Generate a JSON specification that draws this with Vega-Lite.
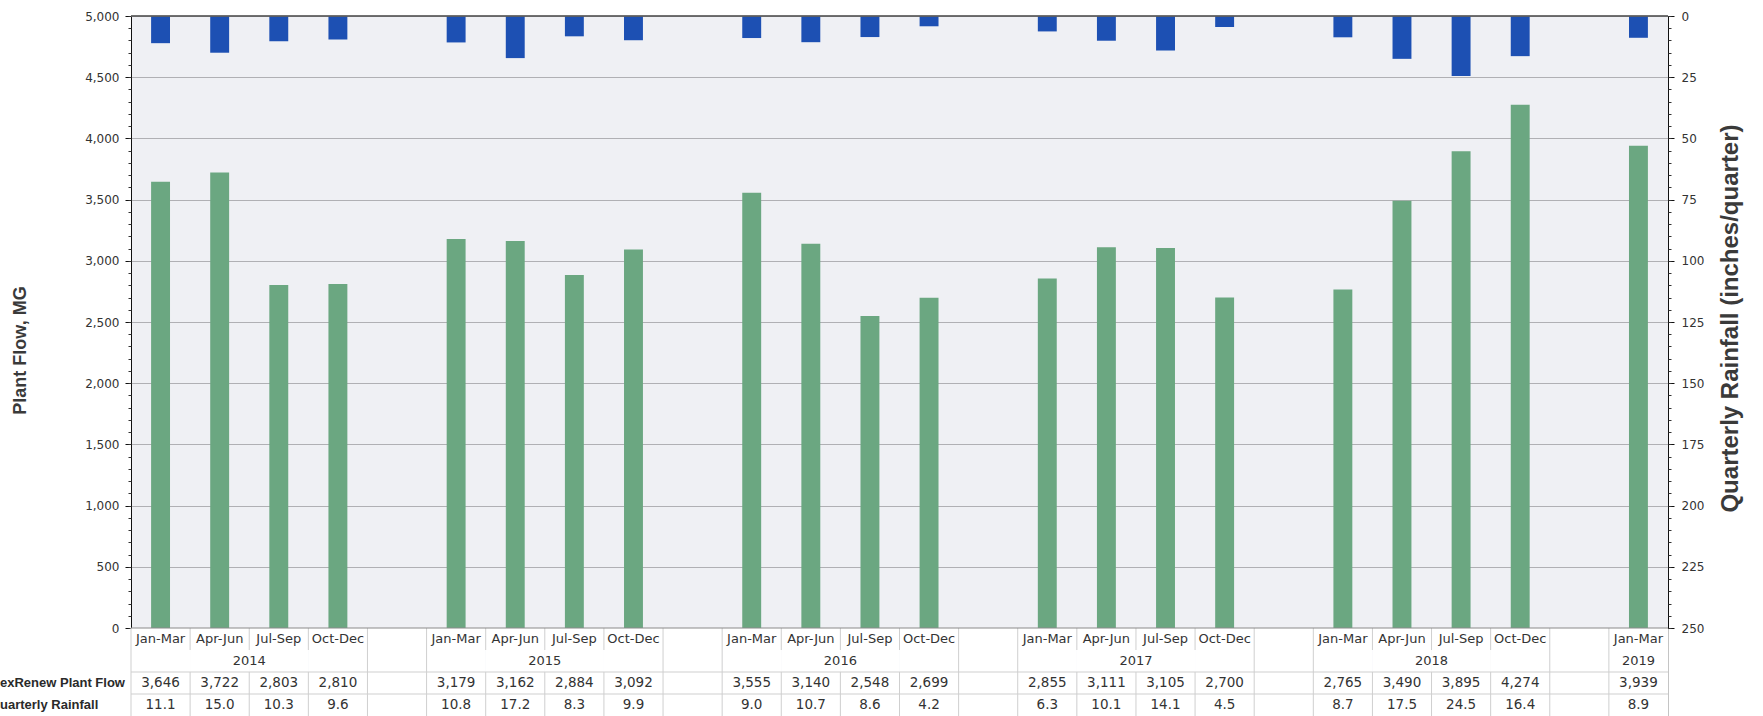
{
  "$schema": "https://vega.github.io/schema/vega-lite/v6.json",
  "autosize": {"type": "none"},
  "padding": {"left": 131, "top": 16, "right": 95, "bottom": 0},
  "width": 1537,
  "height": 700,
  "background": "white",
  "config": {"view": {"fill": "#eff0f4", "stroke": "#c4c4c4"}},
  "datasets": {
    "q": [
      {"slot": "2014 Jan-Mar", "quarter": "Jan-Mar", "year": "2014", "flow": 3646, "rain": 11.1},
      {"slot": "2014 Apr-Jun", "quarter": "Apr-Jun", "year": "2014", "flow": 3722, "rain": 15.0},
      {"slot": "2014 Jul-Sep", "quarter": "Jul-Sep", "year": "2014", "flow": 2803, "rain": 10.3},
      {"slot": "2014 Oct-Dec", "quarter": "Oct-Dec", "year": "2014", "flow": 2810, "rain": 9.6},
      {"slot": "2015 Jan-Mar", "quarter": "Jan-Mar", "year": "2015", "flow": 3179, "rain": 10.8},
      {"slot": "2015 Apr-Jun", "quarter": "Apr-Jun", "year": "2015", "flow": 3162, "rain": 17.2},
      {"slot": "2015 Jul-Sep", "quarter": "Jul-Sep", "year": "2015", "flow": 2884, "rain": 8.3},
      {"slot": "2015 Oct-Dec", "quarter": "Oct-Dec", "year": "2015", "flow": 3092, "rain": 9.9},
      {"slot": "2016 Jan-Mar", "quarter": "Jan-Mar", "year": "2016", "flow": 3555, "rain": 9.0},
      {"slot": "2016 Apr-Jun", "quarter": "Apr-Jun", "year": "2016", "flow": 3140, "rain": 10.7},
      {"slot": "2016 Jul-Sep", "quarter": "Jul-Sep", "year": "2016", "flow": 2548, "rain": 8.6},
      {"slot": "2016 Oct-Dec", "quarter": "Oct-Dec", "year": "2016", "flow": 2699, "rain": 4.2},
      {"slot": "2017 Jan-Mar", "quarter": "Jan-Mar", "year": "2017", "flow": 2855, "rain": 6.3},
      {"slot": "2017 Apr-Jun", "quarter": "Apr-Jun", "year": "2017", "flow": 3111, "rain": 10.1},
      {"slot": "2017 Jul-Sep", "quarter": "Jul-Sep", "year": "2017", "flow": 3105, "rain": 14.1},
      {"slot": "2017 Oct-Dec", "quarter": "Oct-Dec", "year": "2017", "flow": 2700, "rain": 4.5},
      {"slot": "2018 Jan-Mar", "quarter": "Jan-Mar", "year": "2018", "flow": 2765, "rain": 8.7},
      {"slot": "2018 Apr-Jun", "quarter": "Apr-Jun", "year": "2018", "flow": 3490, "rain": 17.5},
      {"slot": "2018 Jul-Sep", "quarter": "Jul-Sep", "year": "2018", "flow": 3895, "rain": 24.5},
      {"slot": "2018 Oct-Dec", "quarter": "Oct-Dec", "year": "2018", "flow": 4274, "rain": 16.4},
      {"slot": "2019 Jan-Mar", "quarter": "Jan-Mar", "year": "2019", "flow": 3939, "rain": 8.9}
    ],
    "slots": [
      {"slot": "2014 Jan-Mar", "start": true}, {"slot": "2014 Apr-Jun", "start": false}, {"slot": "2014 Jul-Sep", "start": false}, {"slot": "2014 Oct-Dec", "start": false}, {"slot": "gap 2014", "start": true},
      {"slot": "2015 Jan-Mar", "start": true}, {"slot": "2015 Apr-Jun", "start": false}, {"slot": "2015 Jul-Sep", "start": false}, {"slot": "2015 Oct-Dec", "start": false}, {"slot": "gap 2015", "start": true},
      {"slot": "2016 Jan-Mar", "start": true}, {"slot": "2016 Apr-Jun", "start": false}, {"slot": "2016 Jul-Sep", "start": false}, {"slot": "2016 Oct-Dec", "start": false}, {"slot": "gap 2016", "start": true},
      {"slot": "2017 Jan-Mar", "start": true}, {"slot": "2017 Apr-Jun", "start": false}, {"slot": "2017 Jul-Sep", "start": false}, {"slot": "2017 Oct-Dec", "start": false}, {"slot": "gap 2017", "start": true},
      {"slot": "2018 Jan-Mar", "start": true}, {"slot": "2018 Apr-Jun", "start": false}, {"slot": "2018 Jul-Sep", "start": false}, {"slot": "2018 Oct-Dec", "start": false}, {"slot": "gap 2018", "start": true},
      {"slot": "2019 Jan-Mar", "start": true}
    ],
    "years": [
      {"year": "2014", "slot": "2014 Jul-Sep"},
      {"year": "2015", "slot": "2015 Jul-Sep"},
      {"year": "2016", "slot": "2016 Jul-Sep"},
      {"year": "2017", "slot": "2017 Jul-Sep"},
      {"year": "2018", "slot": "2018 Jul-Sep"}
    ],
    "year19": [{"year": "2019", "slot": "2019 Jan-Mar"}],
    "rowlabels": [
      {"label": "exRenew Plant Flow", "row": 2.5},
      {"label": "uarterly Rainfall", "row": 3.5}
    ],
    "hlines": [{"r": 2}, {"r": 3}],
    "one": [{"k": 1}]
  },
  "layer": [
    {
      "data": {"name": "slots"},
      "mark": {"type": "rect", "fill": "white"},
      "encoding": {
        "x": {"field": "slot", "type": "nominal", "axis": null, "scale": {"type": "band", "domain": ["2014 Jan-Mar","2014 Apr-Jun","2014 Jul-Sep","2014 Oct-Dec","gap 2014","2015 Jan-Mar","2015 Apr-Jun","2015 Jul-Sep","2015 Oct-Dec","gap 2015","2016 Jan-Mar","2016 Apr-Jun","2016 Jul-Sep","2016 Oct-Dec","gap 2016","2017 Jan-Mar","2017 Apr-Jun","2017 Jul-Sep","2017 Oct-Dec","gap 2017","2018 Jan-Mar","2018 Apr-Jun","2018 Jul-Sep","2018 Oct-Dec","gap 2018","2019 Jan-Mar"], "paddingInner": 0, "paddingOuter": 0}},
        "y": {"datum": 0, "type": "quantitative", "axis": null, "scale": {"type": "linear", "domain": [0, 4], "range": [612, 700], "zero": false, "nice": false}},
        "y2": {"datum": 4}
      }
    },
    {
      "data": {"name": "hlines"},
      "mark": {"type": "rule", "color": "#cfcfcf", "strokeWidth": 1},
      "encoding": {
        "y": {"field": "r", "type": "quantitative", "axis": null, "scale": {"type": "linear", "domain": [0, 4], "range": [612, 700], "zero": false, "nice": false}}
      }
    },
    {
      "data": {"name": "slots"},
      "mark": {"type": "rule", "color": "#cfcfcf", "strokeWidth": 1},
      "encoding": {
        "x": {"field": "slot", "type": "nominal", "bandPosition": 0, "axis": null, "scale": {"type": "band", "domain": ["2014 Jan-Mar","2014 Apr-Jun","2014 Jul-Sep","2014 Oct-Dec","gap 2014","2015 Jan-Mar","2015 Apr-Jun","2015 Jul-Sep","2015 Oct-Dec","gap 2015","2016 Jan-Mar","2016 Apr-Jun","2016 Jul-Sep","2016 Oct-Dec","gap 2016","2017 Jan-Mar","2017 Apr-Jun","2017 Jul-Sep","2017 Oct-Dec","gap 2017","2018 Jan-Mar","2018 Apr-Jun","2018 Jul-Sep","2018 Oct-Dec","gap 2018","2019 Jan-Mar"], "paddingInner": 0, "paddingOuter": 0}},
        "y": {"datum": 0, "type": "quantitative", "axis": null, "scale": {"type": "linear", "domain": [0, 4], "range": [612, 700], "zero": false, "nice": false}},
        "y2": {"datum": 1}
      }
    },
    {
      "data": {"name": "slots"},
      "mark": {"type": "rule", "color": "#cfcfcf", "strokeWidth": 1},
      "encoding": {
        "x": {"field": "slot", "type": "nominal", "bandPosition": 0, "axis": null, "scale": {"type": "band", "domain": ["2014 Jan-Mar","2014 Apr-Jun","2014 Jul-Sep","2014 Oct-Dec","gap 2014","2015 Jan-Mar","2015 Apr-Jun","2015 Jul-Sep","2015 Oct-Dec","gap 2015","2016 Jan-Mar","2016 Apr-Jun","2016 Jul-Sep","2016 Oct-Dec","gap 2016","2017 Jan-Mar","2017 Apr-Jun","2017 Jul-Sep","2017 Oct-Dec","gap 2017","2018 Jan-Mar","2018 Apr-Jun","2018 Jul-Sep","2018 Oct-Dec","gap 2018","2019 Jan-Mar"], "paddingInner": 0, "paddingOuter": 0}},
        "y": {"datum": 2, "type": "quantitative", "axis": null, "scale": {"type": "linear", "domain": [0, 4], "range": [612, 700], "zero": false, "nice": false}},
        "y2": {"datum": 4}
      }
    },
    {
      "data": {"name": "slots"},
      "transform": [{"filter": {"field": "start", "equal": true}}],
      "mark": {"type": "rule", "color": "#cfcfcf", "strokeWidth": 1},
      "encoding": {
        "x": {"field": "slot", "type": "nominal", "bandPosition": 0, "axis": null, "scale": {"type": "band", "domain": ["2014 Jan-Mar","2014 Apr-Jun","2014 Jul-Sep","2014 Oct-Dec","gap 2014","2015 Jan-Mar","2015 Apr-Jun","2015 Jul-Sep","2015 Oct-Dec","gap 2015","2016 Jan-Mar","2016 Apr-Jun","2016 Jul-Sep","2016 Oct-Dec","gap 2016","2017 Jan-Mar","2017 Apr-Jun","2017 Jul-Sep","2017 Oct-Dec","gap 2017","2018 Jan-Mar","2018 Apr-Jun","2018 Jul-Sep","2018 Oct-Dec","gap 2018","2019 Jan-Mar"], "paddingInner": 0, "paddingOuter": 0}},
        "y": {"datum": 1, "type": "quantitative", "axis": null, "scale": {"type": "linear", "domain": [0, 4], "range": [612, 700], "zero": false, "nice": false}},
        "y2": {"datum": 2}
      }
    },
    {
      "data": {"name": "q"},
      "mark": {"type": "text", "font": "DejaVu Sans", "fontSize": 13, "color": "#333333"},
      "encoding": {
        "x": {"field": "slot", "type": "nominal", "axis": null, "scale": {"type": "band", "domain": ["2014 Jan-Mar","2014 Apr-Jun","2014 Jul-Sep","2014 Oct-Dec","gap 2014","2015 Jan-Mar","2015 Apr-Jun","2015 Jul-Sep","2015 Oct-Dec","gap 2015","2016 Jan-Mar","2016 Apr-Jun","2016 Jul-Sep","2016 Oct-Dec","gap 2016","2017 Jan-Mar","2017 Apr-Jun","2017 Jul-Sep","2017 Oct-Dec","gap 2017","2018 Jan-Mar","2018 Apr-Jun","2018 Jul-Sep","2018 Oct-Dec","gap 2018","2019 Jan-Mar"], "paddingInner": 0, "paddingOuter": 0}},
        "y": {"datum": 0.5, "type": "quantitative", "axis": null, "scale": {"type": "linear", "domain": [0, 4], "range": [612, 700], "zero": false, "nice": false}},
        "text": {"field": "quarter"}
      }
    },
    {
      "data": {"name": "years"},
      "mark": {"type": "text", "font": "DejaVu Sans", "fontSize": 13, "color": "#333333"},
      "encoding": {
        "x": {"field": "slot", "type": "nominal", "bandPosition": 0, "axis": null, "scale": {"type": "band", "domain": ["2014 Jan-Mar","2014 Apr-Jun","2014 Jul-Sep","2014 Oct-Dec","gap 2014","2015 Jan-Mar","2015 Apr-Jun","2015 Jul-Sep","2015 Oct-Dec","gap 2015","2016 Jan-Mar","2016 Apr-Jun","2016 Jul-Sep","2016 Oct-Dec","gap 2016","2017 Jan-Mar","2017 Apr-Jun","2017 Jul-Sep","2017 Oct-Dec","gap 2017","2018 Jan-Mar","2018 Apr-Jun","2018 Jul-Sep","2018 Oct-Dec","gap 2018","2019 Jan-Mar"], "paddingInner": 0, "paddingOuter": 0}},
        "y": {"datum": 1.5, "type": "quantitative", "axis": null, "scale": {"type": "linear", "domain": [0, 4], "range": [612, 700], "zero": false, "nice": false}},
        "text": {"field": "year"}
      }
    },
    {
      "data": {"name": "year19"},
      "mark": {"type": "text", "font": "DejaVu Sans", "fontSize": 13, "color": "#333333"},
      "encoding": {
        "x": {"field": "slot", "type": "nominal", "axis": null, "scale": {"type": "band", "domain": ["2014 Jan-Mar","2014 Apr-Jun","2014 Jul-Sep","2014 Oct-Dec","gap 2014","2015 Jan-Mar","2015 Apr-Jun","2015 Jul-Sep","2015 Oct-Dec","gap 2015","2016 Jan-Mar","2016 Apr-Jun","2016 Jul-Sep","2016 Oct-Dec","gap 2016","2017 Jan-Mar","2017 Apr-Jun","2017 Jul-Sep","2017 Oct-Dec","gap 2017","2018 Jan-Mar","2018 Apr-Jun","2018 Jul-Sep","2018 Oct-Dec","gap 2018","2019 Jan-Mar"], "paddingInner": 0, "paddingOuter": 0}},
        "y": {"datum": 1.5, "type": "quantitative", "axis": null, "scale": {"type": "linear", "domain": [0, 4], "range": [612, 700], "zero": false, "nice": false}},
        "text": {"field": "year"}
      }
    },
    {
      "data": {"name": "q"},
      "mark": {"type": "text", "font": "DejaVu Sans", "fontSize": 13.5, "color": "#333333"},
      "encoding": {
        "x": {"field": "slot", "type": "nominal", "axis": null, "scale": {"type": "band", "domain": ["2014 Jan-Mar","2014 Apr-Jun","2014 Jul-Sep","2014 Oct-Dec","gap 2014","2015 Jan-Mar","2015 Apr-Jun","2015 Jul-Sep","2015 Oct-Dec","gap 2015","2016 Jan-Mar","2016 Apr-Jun","2016 Jul-Sep","2016 Oct-Dec","gap 2016","2017 Jan-Mar","2017 Apr-Jun","2017 Jul-Sep","2017 Oct-Dec","gap 2017","2018 Jan-Mar","2018 Apr-Jun","2018 Jul-Sep","2018 Oct-Dec","gap 2018","2019 Jan-Mar"], "paddingInner": 0, "paddingOuter": 0}},
        "y": {"datum": 2.5, "type": "quantitative", "axis": null, "scale": {"type": "linear", "domain": [0, 4], "range": [612, 700], "zero": false, "nice": false}},
        "text": {"field": "flow", "type": "quantitative", "format": ",.0f"}
      }
    },
    {
      "data": {"name": "q"},
      "mark": {"type": "text", "font": "DejaVu Sans", "fontSize": 13.5, "color": "#333333"},
      "encoding": {
        "x": {"field": "slot", "type": "nominal", "axis": null, "scale": {"type": "band", "domain": ["2014 Jan-Mar","2014 Apr-Jun","2014 Jul-Sep","2014 Oct-Dec","gap 2014","2015 Jan-Mar","2015 Apr-Jun","2015 Jul-Sep","2015 Oct-Dec","gap 2015","2016 Jan-Mar","2016 Apr-Jun","2016 Jul-Sep","2016 Oct-Dec","gap 2016","2017 Jan-Mar","2017 Apr-Jun","2017 Jul-Sep","2017 Oct-Dec","gap 2017","2018 Jan-Mar","2018 Apr-Jun","2018 Jul-Sep","2018 Oct-Dec","gap 2018","2019 Jan-Mar"], "paddingInner": 0, "paddingOuter": 0}},
        "y": {"datum": 3.5, "type": "quantitative", "axis": null, "scale": {"type": "linear", "domain": [0, 4], "range": [612, 700], "zero": false, "nice": false}},
        "text": {"field": "rain", "type": "quantitative", "format": ".1f"}
      }
    },
    {
      "data": {"name": "rowlabels"},
      "mark": {"type": "text", "font": "Liberation Sans", "fontSize": 13, "fontWeight": "bold", "color": "#2a2a2a", "align": "left", "dx": -131},
      "encoding": {
        "x": {"datum": "2014 Jan-Mar", "type": "nominal", "bandPosition": 0, "axis": null, "scale": {"type": "band", "domain": ["2014 Jan-Mar","2014 Apr-Jun","2014 Jul-Sep","2014 Oct-Dec","gap 2014","2015 Jan-Mar","2015 Apr-Jun","2015 Jul-Sep","2015 Oct-Dec","gap 2015","2016 Jan-Mar","2016 Apr-Jun","2016 Jul-Sep","2016 Oct-Dec","gap 2016","2017 Jan-Mar","2017 Apr-Jun","2017 Jul-Sep","2017 Oct-Dec","gap 2017","2018 Jan-Mar","2018 Apr-Jun","2018 Jul-Sep","2018 Oct-Dec","gap 2018","2019 Jan-Mar"], "paddingInner": 0, "paddingOuter": 0}},
        "y": {"field": "row", "type": "quantitative", "axis": null, "scale": {"type": "linear", "domain": [0, 4], "range": [612, 700], "zero": false, "nice": false}},
        "text": {"field": "label"}
      }
    },
    {
      "data": {"name": "q"},
      "mark": {"type": "bar", "color": "#6ba781", "width": {"band": 0.32}},
      "encoding": {
        "x": {"field": "slot", "type": "nominal", "axis": null, "scale": {"type": "band", "domain": ["2014 Jan-Mar","2014 Apr-Jun","2014 Jul-Sep","2014 Oct-Dec","gap 2014","2015 Jan-Mar","2015 Apr-Jun","2015 Jul-Sep","2015 Oct-Dec","gap 2015","2016 Jan-Mar","2016 Apr-Jun","2016 Jul-Sep","2016 Oct-Dec","gap 2016","2017 Jan-Mar","2017 Apr-Jun","2017 Jul-Sep","2017 Oct-Dec","gap 2017","2018 Jan-Mar","2018 Apr-Jun","2018 Jul-Sep","2018 Oct-Dec","gap 2018","2019 Jan-Mar"], "paddingInner": 0, "paddingOuter": 0}},
        "y": {
          "field": "flow", "type": "quantitative",
          "scale": {"domain": [0, 5000], "range": [612, 0], "nice": false},
          "axis": {
            "orient": "left", "values": [0, 500, 1000, 1500, 2000, 2500, 3000, 3500, 4000, 4500, 5000], "format": ",.0f",
            "grid": true, "gridColor": "#b0b0b4", "gridWidth": 1,
            "domainColor": "#111111", "tickColor": "#111111", "tickSize": 6, "labelPadding": 6,
            "labelFont": "DejaVu Sans", "labelFontSize": 12, "labelColor": "#333333",
            "title": "Plant Flow, MG", "titleFont": "Liberation Sans", "titleFontSize": 18, "titleFontWeight": "bold", "titleColor": "#3a3a3a",
            "titleX": -111, "titleY": 334, "titleAngle": -90, "titleAlign": "center", "titleBaseline": "middle"
          }
        }
      }
    },
    {
      "data": {"name": "q"},
      "mark": {"type": "bar", "color": "#1d50b3", "width": {"band": 0.32}},
      "encoding": {
        "x": {"field": "slot", "type": "nominal", "axis": null, "scale": {"type": "band", "domain": ["2014 Jan-Mar","2014 Apr-Jun","2014 Jul-Sep","2014 Oct-Dec","gap 2014","2015 Jan-Mar","2015 Apr-Jun","2015 Jul-Sep","2015 Oct-Dec","gap 2015","2016 Jan-Mar","2016 Apr-Jun","2016 Jul-Sep","2016 Oct-Dec","gap 2016","2017 Jan-Mar","2017 Apr-Jun","2017 Jul-Sep","2017 Oct-Dec","gap 2017","2018 Jan-Mar","2018 Apr-Jun","2018 Jul-Sep","2018 Oct-Dec","gap 2018","2019 Jan-Mar"], "paddingInner": 0, "paddingOuter": 0}},
        "y": {
          "field": "rain", "type": "quantitative",
          "scale": {"domain": [0, 250], "range": [0, 612], "nice": false},
          "axis": {
            "orient": "right", "values": [0, 25, 50, 75, 100, 125, 150, 175, 200, 225, 250], "format": "d",
            "grid": false,
            "domainColor": "#111111", "tickColor": "#111111", "tickSize": 6, "labelPadding": 7,
            "labelFont": "DejaVu Sans", "labelFontSize": 12, "labelColor": "#333333",
            "title": "Quarterly Rainfall (inches/quarter)", "titleFont": "Liberation Sans", "titleFontSize": 24, "titleFontWeight": "bold", "titleColor": "#3a3a3a",
            "titleX": 62, "titleY": 302, "titleAngle": -90, "titleAlign": "center", "titleBaseline": "middle"
          }
        }
      }
    },
    {
      "data": {"name": "one"},
      "mark": {"type": "rule", "color": "#222222", "strokeWidth": 1.5},
      "encoding": {
        "y": {"datum": 5000, "type": "quantitative", "scale": {"domain": [0, 5000], "range": [612, 0], "nice": false},
          "axis": {"orient": "left", "values": [0,100,200,300,400,500,600,700,800,900,1000,1100,1200,1300,1400,1500,1600,1700,1800,1900,2000,2100,2200,2300,2400,2500,2600,2700,2800,2900,3000,3100,3200,3300,3400,3500,3600,3700,3800,3900,4000,4100,4200,4300,4400,4500,4600,4700,4800,4900,5000], "labels": false, "domain": false, "grid": false, "tickSize": 3, "tickColor": "#333333", "title": null}
        }
      }
    },
    {
      "data": {"name": "one"},
      "mark": {"type": "rule", "color": "#8a8a8a", "strokeWidth": 1},
      "encoding": {
        "y": {"datum": 0, "type": "quantitative", "scale": {"domain": [0, 250], "range": [0, 612], "nice": false},
          "axis": {"orient": "right", "values": [0,5,10,15,20,25,30,35,40,45,50,55,60,65,70,75,80,85,90,95,100,105,110,115,120,125,130,135,140,145,150,155,160,165,170,175,180,185,190,195,200,205,210,215,220,225,230,235,240,245,250], "labels": false, "domain": false, "grid": false, "tickSize": 3, "tickColor": "#333333", "title": null}
        }
      }
    },
    {
      "data": {"name": "one"},
      "mark": {"type": "rule", "color": "#8a8a8a", "strokeWidth": 1},
      "encoding": {
        "y": {"datum": 0, "type": "quantitative", "axis": null, "scale": {"domain": [0, 5000], "range": [612, 0], "nice": false}}
      }
    }
  ],
  "resolve": {"scale": {"y": "independent"}, "axis": {"y": "independent"}}
}
